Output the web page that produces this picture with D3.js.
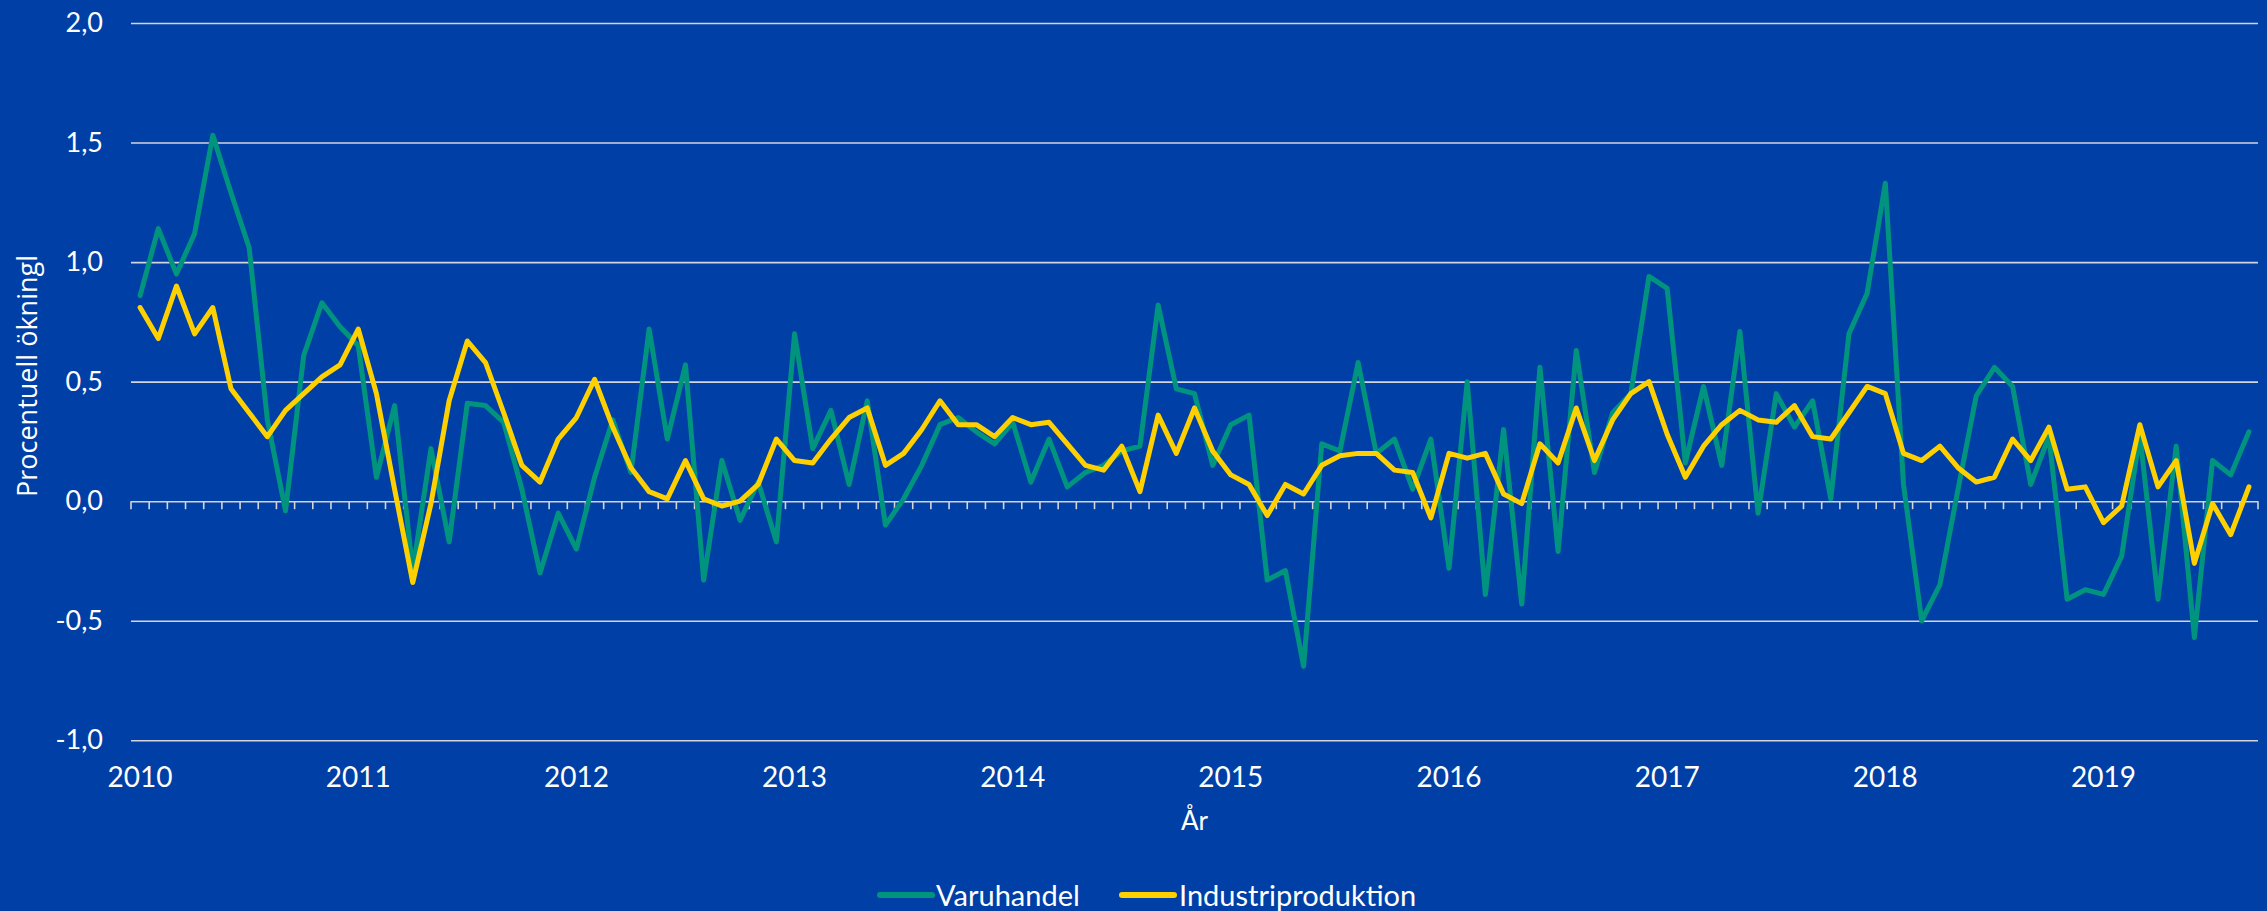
<!DOCTYPE html>
<html>
<head>
<meta charset="utf-8">
<script src="https://cdn.jsdelivr.net/npm/d3@7"></script>
<style>
  html, body { margin: 0; padding: 0; background: #003FA5; }
  svg { display: block; }
  text { fill: #ffffff; font-family: Lato, "Open Sans", sans-serif; }
</style>
</head>
<body>
<div id="chart"></div>
<script>
// Monthly values, Jan 2010 - Sep 2019
const startYear = 2010;
const varuhandel = [
  0.86, 1.14, 0.95, 1.12, 1.53, 1.29, 1.06, 0.34, -0.04, 0.61, 0.83, 0.73,
  0.65, 0.10, 0.40, -0.29, 0.22, -0.17, 0.41, 0.40, 0.33, 0.05, -0.30, -0.05,
  -0.20, 0.10, 0.34, 0.12, 0.72, 0.26, 0.57, -0.33, 0.17, -0.08, 0.08, -0.17,
  0.70, 0.22, 0.38, 0.07, 0.42, -0.10, 0.01, 0.15, 0.32, 0.35, 0.29, 0.24,
  0.33, 0.08, 0.26, 0.06, 0.12, 0.15, 0.21, 0.23, 0.82, 0.47, 0.45, 0.15,
  0.32, 0.36, -0.33, -0.29, -0.69, 0.24, 0.21, 0.58, 0.20, 0.26, 0.05, 0.26,
  -0.28, 0.50, -0.39, 0.30, -0.43, 0.56, -0.21, 0.63, 0.12, 0.37, 0.45, 0.94,
  0.89, 0.16, 0.48, 0.15, 0.71, -0.05, 0.45, 0.31, 0.42, 0.01, 0.70, 0.87,
  1.33, 0.07, -0.50, -0.35, 0.05, 0.44, 0.56, 0.48, 0.07, 0.27, -0.41, -0.37,
  -0.39, -0.23, 0.28, -0.41, 0.23, -0.57, 0.17, 0.11, 0.29
];
const industriproduktion = [
  0.81, 0.68, 0.90, 0.70, 0.81, 0.47, 0.37, 0.27, 0.38, 0.45, 0.52, 0.57,
  0.72, 0.45, 0.05, -0.34, -0.01, 0.42, 0.67, 0.58, 0.37, 0.15, 0.08, 0.26,
  0.35, 0.51, 0.31, 0.14, 0.04, 0.01, 0.17, 0.01, -0.02, 0.00, 0.07, 0.26,
  0.17, 0.16, 0.26, 0.35, 0.39, 0.15, 0.20, 0.30, 0.42, 0.32, 0.32, 0.27,
  0.35, 0.32, 0.33, 0.24, 0.15, 0.13, 0.23, 0.04, 0.36, 0.20, 0.39, 0.21,
  0.11, 0.07, -0.06, 0.07, 0.03, 0.15, 0.19, 0.20, 0.20, 0.13, 0.12, -0.07,
  0.20, 0.18, 0.20, 0.03, -0.01, 0.24, 0.16, 0.39, 0.17, 0.34, 0.45, 0.50,
  0.28, 0.10, 0.23, 0.32, 0.38, 0.34, 0.33, 0.40, 0.27, 0.26, 0.37, 0.48,
  0.45, 0.20, 0.17, 0.23, 0.14, 0.08, 0.10, 0.26, 0.17, 0.31, 0.05, 0.06,
  -0.09, -0.02, 0.32, 0.06, 0.17, -0.26, -0.01, -0.14, 0.06
];
const yTicks = [-1.0, -0.5, 0.0, 0.5, 1.0, 1.5, 2.0];
const yearLabels = ['2010', '2011', '2012', '2013', '2014', '2015', '2016', '2017', '2018', '2019'];
const seriesNames = ['Varuhandel', 'Industriproduktion'];

let
w = 2267,
h = 911,
left = 131, // left edge of plot
right = 2258, // right edge of plot
green = '#00947F',
yellow = '#FFD000',
grid = '#D4D4DC',

months = d3.range(varuhandel.length),

// one band per month, points sit in the middle of each band
xScale = d3.scaleBand().domain(months).range([left, right]),
xMid = i => xScale(i) + xScale.bandwidth() / 2,

yScale = d3.scaleLinear().domain([-1, 2]).range([740.3, 23]),

// Swedish decimal comma, plain hyphen for minus
sv = d3.formatLocale({decimal: ',', thousands: ' ', grouping: [3], currency: ['', ' kr'], minus: '-'}),
fmt = sv.format('.1f'),

svg = d3.select('#chart').
append('svg').
attr('width', w).
attr('height', h);

svg.append('rect').
attr('width', w).
attr('height', h).
attr('fill', '#003FA5');

// Horizontal gridlines and y labels
let yAxis = d3.axisLeft(yScale).
tickValues(yTicks).
tickSize(-(right - left)).
tickPadding(28).
tickFormat(fmt);

let yG = svg.append('g').
attr('transform', 'translate(' + left + ',0)').
call(yAxis);
yG.select('.domain').remove();
yG.selectAll('line').attr('stroke', grid).attr('stroke-width', 1.6);
yG.selectAll('text').
attr('fill', '#fff').
style('font-size', '27px').
style('font-family', 'Lato, sans-serif');

// Month ticks hanging from the zero line, at band edges
let tickXs = months.map(i => xScale(i)).concat([right]);
svg.append('g').
selectAll('line').
data(tickXs).
enter().
append('line').
attr('x1', d => d).
attr('x2', d => d).
attr('y1', yScale(0)).
attr('y2', yScale(0) + 8).
attr('stroke', grid).
attr('stroke-width', 1.6);

// Year labels under first month of each year
svg.append('g').
selectAll('text').
data(yearLabels).
enter().
append('text').
attr('x', (d, k) => xMid(k * 12)).
attr('y', 787).
attr('text-anchor', 'middle').
style('font-size', '28px').
text(d => d);

// Axis titles
svg.append('text').
attr('x', (left + right) / 2).
attr('y', 830).
attr('text-anchor', 'middle').
style('font-size', '26px').
text('År');

svg.append('text').
attr('transform', 'translate(37,376) rotate(-90)').
attr('text-anchor', 'middle').
style('font-size', '27px').
style('font-family', '"Open Sans", sans-serif').
text('Procentuell ökningl');

// The two series
let line = d3.line().
x((d, i) => xMid(i)).
y(d => yScale(d));

[[varuhandel, green], [industriproduktion, yellow]].forEach(s => {
  svg.append('path').
  datum(s[0]).
  attr('d', line).
  attr('fill', 'none').
  attr('stroke', s[1]).
  attr('stroke-width', 5).
  attr('stroke-linejoin', 'round').
  attr('stroke-linecap', 'round');
});

// Legend
let legend = svg.append('g').attr('transform', 'translate(0,895)');
let legendItems = [
  {name: seriesNames[0], color: green, x: 880, tx: 936},
  {name: seriesNames[1], color: yellow, x: 1122, tx: 1179}
];
legendItems.forEach(d => {
  legend.append('line').
  attr('x1', d.x).
  attr('x2', d.x + 52).
  attr('stroke', d.color).
  attr('stroke-width', 6).
  attr('stroke-linecap', 'round');
  legend.append('text').
  attr('x', d.tx).
  attr('y', 11).
  style('font-size', '29px').
  text(d.name);
});
</script>
</body>
</html>
